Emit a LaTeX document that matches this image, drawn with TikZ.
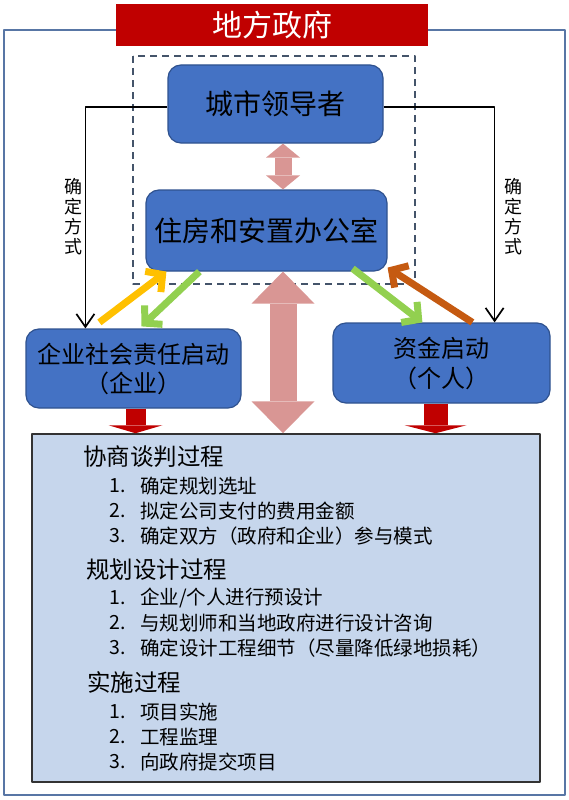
\documentclass[tikz,border=0pt]{standalone}
\usepackage{fontspec}
\setmainfont{Noto Sans CJK SC}
\usetikzlibrary{arrows.meta}
\definecolor{boxblue}{RGB}{68,114,196}
\definecolor{boxline}{RGB}{47,82,143}
\definecolor{govred}{RGB}{192,0,0}
\definecolor{framecol}{RGB}{88,118,165}
\definecolor{dashcol}{RGB}{68,84,106}
\definecolor{pinkarrow}{RGB}{217,150,148}
\definecolor{procfill}{RGB}{198,214,236}
\definecolor{yellowarrow}{RGB}{255,192,0}
\definecolor{greenarrow}{RGB}{146,208,80}
\definecolor{orangearrow}{RGB}{197,90,17}

\begin{document}
\begin{tikzpicture}[line join=round,x=1pt,y=-1pt,
  box/.style={draw=boxline,line width=1.2pt,fill=boxblue,rounded corners=13pt,inner sep=0pt,align=center},
  conn/.style={line width=1.7pt,-{Straight Barb[length=13pt,width=18pt]}},
  flow/.style={line width=7pt,line cap=butt,-{Straight Barb[length=12pt,width=26pt]}},
  fatarrow/.style={line cap=butt,color=pinkarrow},
  head/.style={anchor=west,inner sep=0pt,font=\fontsize{23.5}{24}\selectfont},
  item/.style={anchor=west,inner sep=0pt,font=\fontsize{19.5}{20}\selectfont}]
\useasboundingbox (0,0) rectangle (569,800);

%kehys ja otsikko
\draw[color=framecol,line width=2pt] (4,30) rectangle (565,795);
\node[fill=govred,text=white,minimum width=312pt,minimum height=42pt,inner sep=0pt,
  font=\fontsize{30}{30}\selectfont] (gov) at (272,25) {地方政府};
\draw[color=dashcol,line width=1.7pt,dash pattern=on 7pt off 5pt] (133,56) rectangle (415,284);

%laatikot
\node[box,minimum width=215pt,minimum height=78pt,font=\fontsize{28}{30}\selectfont] (leader) at (275.5,104) {城市领导者};
\node[box,minimum width=241pt,minimum height=81pt,font=\fontsize{28}{30}\selectfont] (office) at (266.5,230.5) {住房和安置办公室};
\node[box,minimum width=215pt,minimum height=79pt,font=\fontsize{24}{29}\selectfont] (lbox) at (133.5,368.5) {企业社会责任启动\\（企业）};
\node[box,minimum width=217pt,minimum height=80pt,font=\fontsize{24}{30}\selectfont] (rbox) at (441.5,363) {资金启动\\（个人）};
\node[draw=black!80,line width=1.5pt,fill=procfill,minimum width=508pt,minimum height=348pt,inner sep=0pt] (proc) at (286,608) {};

%mustat nuolet
\draw[conn] ([yshift=-3pt]leader.west) -| ([xshift=60pt]lbox.north west);
\draw[conn] ([yshift=-3pt]leader.east) -| ([xshift=-56pt]rbox.north east);
\node[inner sep=0pt,align=center,font=\fontsize{18}{20}\selectfont] (model) at (73,217) {确\\定\\方\\式};
\node[inner sep=0pt,align=center,font=\fontsize{18}{20}\selectfont] (moder) at (513,217) {确\\定\\方\\式};

%paksut nuolet
\coordinate (pinkx) at (283,0);
\draw[fatarrow,line width=17pt,{Triangle[length=14pt,width=34pt,line width=0pt]}-{Triangle[length=14pt,width=34pt,line width=0pt]}]
  (leader.south -| pinkx) -- (office.north -| pinkx);
\draw[fatarrow,line width=27pt,{Triangle[length=32pt,width=63pt,line width=0pt]}-{Triangle[length=32pt,width=63pt,line width=0pt]}]
  (office.south -| pinkx) -- (proc.north -| pinkx);
\coordinate (ldown) at ([xshift=2pt]lbox.south);
\coordinate (rdown) at ([xshift=-6pt]rbox.south);
\draw[line cap=butt,color=govred,line width=20pt,-{Triangle[length=8pt,width=54pt,line width=0pt]}] (ldown) -- (ldown |- proc.north);
\draw[line cap=butt,color=govred,line width=24pt,-{Triangle[length=8pt,width=62pt,line width=0pt]}] (rdown) -- (rdown |- proc.north);

%varilliset nuolet
\draw[flow,color=yellowarrow] ([xshift=74pt,yshift=6pt]lbox.north west) -- ([xshift=21pt]office.south west);
\draw[flow,color=greenarrow] ([xshift=54pt]office.south west) -- ([xshift=116pt,yshift=2pt]lbox.north west);
\draw[flow,color=greenarrow] ([xshift=-35pt,yshift=3pt]office.south east) -- ([xshift=90pt]rbox.north west);
\draw[flow,color=orangearrow] ([xshift=140pt]rbox.north west) -- ([yshift=4pt]office.south east);

%prosessit
\node[head] (neg) at (83,457) {协商谈判过程};
\foreach \t [count=\i] in {确定规划选址,拟定公司支付的费用金额,确定双方（政府和企业）参与模式}
{
\node[item] (negn\i) at (109,461+25*\i) {\i.};
\node[item] (negt\i) at (140,461+25*\i) {\t};
}
\node[head] (plan) at (86,570) {规划设计过程};
\foreach \t [count=\i] in {企业/个人进行预设计,与规划师和当地政府进行设计咨询,确定设计工程细节（尽量降低绿地损耗）}
{
\node[item] (plann\i) at (109,573+25*\i) {\i.};
\node[item] (plant\i) at (140,573+25*\i) {\t};
}
\node[head] (impl) at (87,682) {实施过程};
\foreach \t [count=\i] in {项目实施,工程监理,向政府提交项目}
{
\node[item] (impln\i) at (109,687+25*\i) {\i.};
\node[item] (implt\i) at (140,687+25*\i) {\t};
}
\end{tikzpicture}
\end{document}
